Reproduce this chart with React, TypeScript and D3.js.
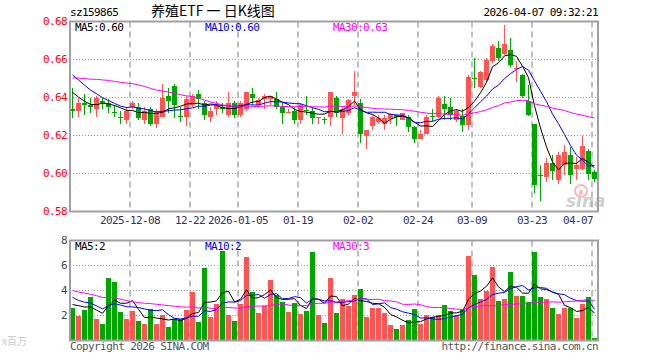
import React from "react";
import * as d3 from "d3";

// trading days shown on the chart
const dates = [
  "2025-11-24", "2025-11-25", "2025-11-26", "2025-11-27", "2025-11-28",
  "2025-12-01", "2025-12-02", "2025-12-03", "2025-12-04", "2025-12-05",
  "2025-12-08", "2025-12-09", "2025-12-10", "2025-12-11", "2025-12-12",
  "2025-12-15", "2025-12-16", "2025-12-17", "2025-12-18", "2025-12-19",
  "2025-12-22", "2025-12-23", "2025-12-24", "2025-12-25", "2025-12-26",
  "2025-12-29", "2025-12-30", "2025-12-31",
  "2026-01-05", "2026-01-06", "2026-01-07", "2026-01-08", "2026-01-09",
  "2026-01-12", "2026-01-13", "2026-01-14", "2026-01-15", "2026-01-16",
  "2026-01-19", "2026-01-20", "2026-01-21", "2026-01-22", "2026-01-23",
  "2026-01-26", "2026-01-27", "2026-01-28", "2026-01-29", "2026-01-30",
  "2026-02-02", "2026-02-03", "2026-02-04", "2026-02-05", "2026-02-06",
  "2026-02-09", "2026-02-10", "2026-02-11", "2026-02-12", "2026-02-13",
  "2026-02-24", "2026-02-25", "2026-02-26", "2026-02-27",
  "2026-03-02", "2026-03-03", "2026-03-04", "2026-03-05", "2026-03-06",
  "2026-03-09", "2026-03-10", "2026-03-11", "2026-03-12", "2026-03-13",
  "2026-03-16", "2026-03-17", "2026-03-18", "2026-03-19", "2026-03-20",
  "2026-03-23", "2026-03-24", "2026-03-25", "2026-03-26", "2026-03-27",
  "2026-03-30", "2026-03-31", "2026-04-01", "2026-04-02", "2026-04-03",
  "2026-04-07",
];

const open = [
  0.634, 0.633, 0.637, 0.636, 0.634, 0.638, 0.637, 0.6325, 0.630, 0.628,
  0.635, 0.635, 0.628, 0.634, 0.626, 0.630, 0.641, 0.646, 0.6303, 0.630,
  0.636, 0.642, 0.637, 0.630, 0.634, 0.635, 0.631, 0.637, 0.631, 0.634,
  0.642, 0.636, 0.639, 0.639, 0.639, 0.635, 0.632, 0.633, 0.628, 0.6335,
  0.633, 0.629, 0.6288, 0.630, 0.640, 0.629, 0.632, 0.641, 0.637, 0.620,
  0.625, 0.627, 0.626, 0.6285, 0.631, 0.628, 0.630, 0.6245, 0.618, 0.621,
  0.6302, 0.630, 0.6365, 0.635, 0.628, 0.6305, 0.6255, 0.6505, 0.6455, 0.649,
  0.659, 0.666, 0.663, 0.665, 0.655, 0.652, 0.638, 0.626, 0.599, 0.598,
  0.6055, 0.5965, 0.6045, 0.6095, 0.6025, 0.6025, 0.612, 0.601,
];
const high = [
  0.645, 0.640, 0.642, 0.640, 0.641, 0.640, 0.639, 0.636, 0.633, 0.635,
  0.638, 0.637, 0.635, 0.635, 0.634, 0.647, 0.645, 0.647, 0.635, 0.641,
  0.642, 0.644, 0.638, 0.635, 0.638, 0.637, 0.643, 0.638, 0.638, 0.643,
  0.645, 0.640, 0.642, 0.641, 0.643, 0.637, 0.634, 0.635, 0.637, 0.641,
  0.635, 0.630, 0.630, 0.643, 0.641, 0.635, 0.639, 0.654, 0.639, 0.623,
  0.631, 0.631, 0.631, 0.632, 0.631, 0.632, 0.631, 0.625, 0.623, 0.631,
  0.634, 0.641, 0.641, 0.640, 0.634, 0.634, 0.652, 0.661, 0.654, 0.661,
  0.668, 0.670, 0.678, 0.6715, 0.659, 0.6525, 0.6465, 0.626, 0.6045, 0.608,
  0.6095, 0.6115, 0.615, 0.614, 0.6087, 0.6196, 0.613, 0.602,
];
const low = [
  0.629, 0.630, 0.631, 0.632, 0.630, 0.634, 0.632, 0.630, 0.626, 0.626,
  0.634, 0.628, 0.626, 0.625, 0.624, 0.630, 0.632, 0.629, 0.627, 0.625,
  0.635, 0.634, 0.628, 0.627, 0.631, 0.632, 0.630, 0.629, 0.630, 0.633,
  0.636, 0.635, 0.634, 0.636, 0.634, 0.626, 0.632, 0.626, 0.626, 0.631,
  0.626, 0.626, 0.6263, 0.625, 0.630, 0.621, 0.631, 0.636, 0.616, 0.613,
  0.623, 0.626, 0.623, 0.626, 0.625, 0.628, 0.622, 0.616, 0.618, 0.621,
  0.627, 0.629, 0.628, 0.628, 0.627, 0.622, 0.623, 0.645, 0.645, 0.648,
  0.658, 0.659, 0.6625, 0.656, 0.648, 0.640, 0.6305, 0.5895, 0.5855, 0.5955,
  0.5965, 0.5947, 0.599, 0.5947, 0.5965, 0.602, 0.5965, 0.5955,
];
const close = [
  0.633, 0.637, 0.636, 0.635, 0.640, 0.637, 0.635, 0.632, 0.629, 0.633,
  0.637, 0.629, 0.633, 0.626, 0.633, 0.640, 0.638, 0.636, 0.630, 0.639,
  0.641, 0.639, 0.631, 0.633, 0.636, 0.634, 0.637, 0.631, 0.637, 0.643,
  0.640, 0.6385, 0.641, 0.641, 0.635, 0.632, 0.6325, 0.628, 0.636, 0.633,
  0.629, 0.630, 0.6285, 0.643, 0.632, 0.634, 0.6385, 0.643, 0.621, 0.623,
  0.630, 0.629, 0.629, 0.6315, 0.6295, 0.632, 0.6245, 0.618, 0.621, 0.630,
  0.630, 0.640, 0.634, 0.631, 0.633, 0.6255, 0.651, 0.6495, 0.6535, 0.660,
  0.667, 0.661, 0.668, 0.657, 0.6553, 0.641, 0.631, 0.594, 0.5985, 0.6055,
  0.6015, 0.610, 0.6115, 0.599, 0.6045, 0.6145, 0.600, 0.597,
];
// volume, millions of shares
const volume = [
  2.58, 1.97, 2.42, 3.49, 1.70, 1.30, 4.98, 4.66, 2.26, 1.70,
  2.34, 1.54, 1.30, 2.50, 1.30, 2.02, 1.06, 1.76, 1.70, 2.42,
  3.86, 1.46, 5.78, 1.86, 2.90, 7.14, 2.02, 1.54, 2.90, 6.66,
  3.86, 2.18, 2.74, 4.82, 3.62, 3.06, 2.26, 2.98, 2.10, 2.34,
  7.06, 2.02, 1.38, 4.98, 2.18, 3.30, 2.74, 3.62, 4.10, 1.86,
  2.58, 2.58, 2.18, 1.22, 0.90, 1.22, 1.62, 2.50, 1.30, 2.02,
  1.86, 2.02, 2.82, 2.34, 2.02, 2.50, 6.74, 5.22, 3.30, 3.94,
  5.86, 3.14, 3.30, 5.46, 3.54, 3.54, 3.06, 7.06, 3.46, 3.30,
  2.58, 2.10, 2.58, 2.58, 1.78, 2.90, 3.46, 0.18,
];
// sessions before the first visible day (off the chart, estimated from where the MA lines start)
const prevClose = [
  0.640, 0.643, 0.645, 0.642, 0.646, 0.644, 0.647, 0.643, 0.645, 0.645,
  0.652, 0.655, 0.657, 0.659, 0.656, 0.654, 0.653, 0.655, 0.657, 0.652,
  0.664, 0.663, 0.661, 0.659, 0.658, 0.650, 0.647, 0.643, 0.641,
];
const prevVolume = [
  5.8, 4.9, 6.2, 5.1, 5.6, 4.7, 5.9, 5.3, 5.0, 5.44,
  3.4, 2.9, 3.3, 3.0, 3.5, 2.8, 3.2, 3.1, 3.3, 2.96,
  4.5, 3.8, 4.2, 3.9, 3.8, 2.4, 3.0, 3.4, 3.0,
];

const tickDates = ["2025-12-08", "2025-12-22", "2026-01-05", "2026-01-19", "2026-02-02", "2026-02-24", "2026-03-09", "2026-03-23", "2026-04-07"];
const tickLabels = ["2025-12-08", "12-22", "2026-01-05", "01-19", "02-02", "02-24", "03-09", "03-23", "04-07"];
const priceTicks = [0.58, 0.6, 0.62, 0.64, 0.66, 0.68];
const volTicks = [2, 4, 6, 8];

const W = 660;
const H = 360;
const LEFT = 70;
const RIGHT = 598;
const RED = "#ff5454";
const GREEN = "#00a600";
const MONO = "'DejaVu Sans Mono', monospace";

function movingAverage(values: number[], prior: number[], n: number) {
  const all = prior.concat(values);
  return values.map((_, i) => {
    const end = i + prior.length + 1;
    return d3.mean(all.slice(end - n, end)) as number;
  });
}

const App = () => {
  const idx = d3.range(dates.length);
  const x = d3
    .scaleBand<number>()
    .domain(idx)
    .range([LEFT - 0.5, RIGHT - 0.5])
    .paddingInner(1 / 6)
    .paddingOuter(1 / 12);
  const cx = (i: number) => (x(i) as number) + x.bandwidth() / 2;

  const yP = d3.scaleLinear().domain([0.58, 0.68]).range([211.5, 21.5]);
  const yV = d3.scaleLinear().domain([0, 8]).range([340.5, 240.5]);

  const ma = [5, 10, 30].map(n => movingAverage(close, prevClose, n));
  const vma = [5, 10, 30].map(n => movingAverage(volume, prevVolume, n));
  const maColors = ["#000000", "#0000ff", "#ff00ff"];
  const maX = [75, 205, 333];

  const priceLine = d3.line<number>().x((_, i) => cx(i)).y(d => yP(d));
  const volLine = d3.line<number>().x((_, i) => cx(i)).y(d => yV(d));
  const fmtP = d3.format(".2f");
  const fmtV = d3.format(".0f");

  const up = (i: number) => close[i] >= open[i];
  const last = dates.length - 1;
  const tickIdx = tickDates.map(d => dates.indexOf(d));

  const grid = (top: number, bottom: number) =>
    tickIdx.map(i => (
      <line key={i} x1={(x(i) as number)} x2={(x(i) as number)} y1={top} y2={bottom}
        stroke="#aaa" strokeWidth={1.5} strokeDasharray="6,4" />
    ));

  return (
    <svg width={W} height={H} style={{ position: "absolute", left: 0, top: 0, background: "#fff" }}
      fontFamily={MONO} fontSize={11}>
      {/* header */}
      <text x={70} y={16} fill="#000" letterSpacing={-0.6}>sz159865</text>
      <text x={151} y={16} fontFamily="'Noto Sans CJK SC', sans-serif" fontSize={14} fill="#000">养殖ETF 一 日K线图</text>
      <text x={RIGHT} y={16} textAnchor="end" fill="#000" letterSpacing={-0.6}>2026-04-07 09:32:21</text>

      {/* price panel grid */}
      {priceTicks.slice(1, -1).map(t => (
        <line key={t} x1={LEFT} x2={RIGHT} y1={yP(t)} y2={yP(t)} stroke="#999" strokeDasharray="1,2" />
      ))}
      {grid(yP(0.68), yP(0.58))}
      {priceTicks.map(t => (
        <text key={t} x={67} y={yP(t)} dy="0.35em" textAnchor="end" fill="#ff0000" letterSpacing={-0.6}>{fmtP(t)}</text>
      ))}

      {/* candles */}
      <g shapeRendering="crispEdges">
        {idx.map(i => {
          const c = up(i) ? RED : GREEN;
          const top = yP(Math.max(open[i], close[i]));
          const h = Math.max(1, Math.abs(yP(open[i]) - yP(close[i])));
          return (
            <g key={i}>
              <line x1={cx(i)} x2={cx(i)} y1={yP(high[i])} y2={yP(low[i])} stroke={c} />
              <rect x={x(i)} y={top} width={x.bandwidth()} height={h} fill={c} />
            </g>
          );
        })}
      </g>
      {ma.map((m, k) => (
        <path key={k} d={priceLine(m) as string} fill="none" stroke={maColors[k]} strokeWidth={1} />
      ))}

      {/* sina watermark */}
      <g opacity={0.55}>
        <circle cx={581} cy={191} r={6} fill="none" stroke="#f08080" strokeWidth={2} />
        <circle cx={581} cy={192} r={2} fill="#f08080" />
        <text x={566} y={207} fontFamily="'DejaVu Sans', sans-serif" fontWeight="bold" fontStyle="italic" fontSize={17} fill="#aaa">sina</text>
      </g>

      <rect x={LEFT} y={yP(0.68)} width={RIGHT - LEFT} height={yP(0.58) - yP(0.68)} fill="none" stroke="#a0a0a0" strokeWidth={2} />
      {["MA5:", "MA10:", "MA30:"].map((s, k) => (
        <text key={s} x={maX[k]} y={31} fill={maColors[k]} letterSpacing={-0.6}>{s + fmtP(ma[k][last])}</text>
      ))}

      {/* date axis */}
      {tickIdx.map((i, k) => {
        const px = x(i) as number;
        const atEnd = px + 30 > RIGHT;
        return (
          <text key={i} x={atEnd ? RIGHT - 5 : px} y={224} textAnchor={atEnd ? "end" : "middle"} fill="#333366" letterSpacing={-0.6}>
            {tickLabels[k]}
          </text>
        );
      })}

      {/* volume panel */}
      {volTicks.slice(0, -1).map(t => (
        <line key={t} x1={LEFT} x2={RIGHT} y1={yV(t)} y2={yV(t)} stroke="#999" strokeDasharray="1,2" />
      ))}
      {grid(yV(8), yV(0))}
      {volTicks.map(t => (
        <text key={t} x={67} y={yV(t)} dy="0.35em" textAnchor="end" fill="#444" letterSpacing={-0.6}>{t}</text>
      ))}
      <g shapeRendering="crispEdges">
        {idx.map(i => (
          <rect key={i} x={x(i)} y={yV(volume[i])} width={x.bandwidth()} height={yV(0) - yV(volume[i])}
            fill={up(i) ? RED : GREEN} />
        ))}
      </g>
      {vma.map((m, k) => (
        <path key={k} d={volLine(m) as string} fill="none" stroke={maColors[k]} strokeWidth={1} />
      ))}
      <rect x={LEFT} y={yV(8)} width={RIGHT - LEFT} height={yV(0) - yV(8)} fill="none" stroke="#a0a0a0" strokeWidth={2} />
      {["MA5:", "MA10:", "MA30:"].map((s, k) => (
        <text key={s} x={maX[k]} y={250} fill={maColors[k]} letterSpacing={-0.6}>{s + fmtV(vma[k][last])}</text>
      ))}

      {/* footer */}
      <text x={2} y={345} fontFamily="'Noto Sans CJK SC', sans-serif" fontSize={10} fill="#ccc">x百万</text>
      <text x={LEFT} y={350} fill="#555" letterSpacing={-0.6}>Copyright 2026 SINA.COM</text>
      <text x={RIGHT} y={350} textAnchor="end" fill="#555" letterSpacing={-0.6}>http://finance.sina.com.cn</text>
    </svg>
  );
};

export default App;
